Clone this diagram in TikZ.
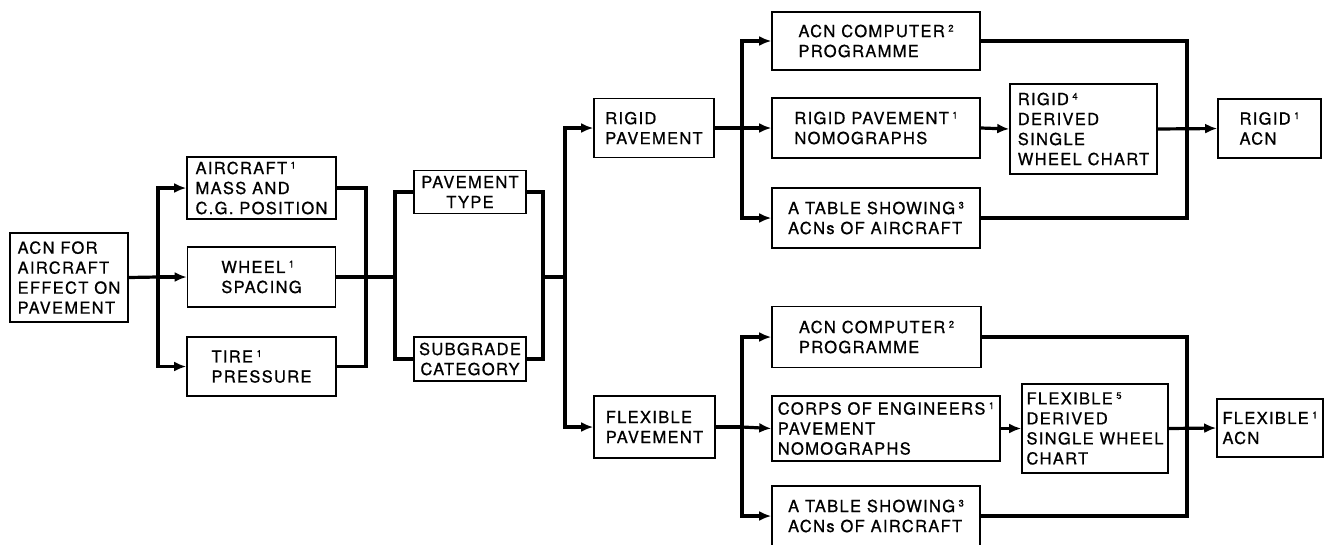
\documentclass[tikz,border=0pt]{standalone}
\usepackage{fontspec}
\setmainfont{TeX Gyre Heros}[LetterSpace=8,FakeBold=0.8]
\usetikzlibrary{arrows.meta}
\newcommand\supn[1]{\hspace{3.5pt}{\fontsize{9.5}{9.5}\selectfont\raisebox{5.5pt}{#1}}}
\begin{document}
\begin{tikzpicture}[x=1pt,y=-1pt,
  box/.style={draw,line width=1.6pt,rectangle,align=left,inner sep=0pt,
    font=\fontsize{16.5}{20}\selectfont},
  link/.style={line width=3.2pt,line cap=butt},
  arr/.style={link,-{Latex[length=12pt,width=10pt]}}]
\useasboundingbox (0,0) rectangle (1325,544);
% nodes
\node[box,minimum width=118pt,minimum height=89pt] (acn) at (69,277.5) {ACN FOR\\AIRCRAFT\\EFFECT ON\\PAVEMENT};
\node[box,minimum width=149pt,minimum height=62pt] (air) at (261.5,188) {AIRCRAFT\supn{1}\\MASS AND\\C.G. POSITION};
\node[box,minimum width=148pt,minimum height=60pt] (wheel) at (261.5,277) {WHEEL\supn{1}\\SPACING};
\node[box,minimum width=149pt,minimum height=59pt] (tire) at (261.5,366.5) {TIRE\supn{1}\\PRESSURE};
\node[box,align=center,minimum width=112pt,minimum height=43pt] (ptype) at (470,192) {PAVEMENT\\TYPE};
\node[box,align=center,minimum width=112pt,minimum height=44pt] (subg) at (470,359) {SUBGRADE\\CATEGORY};
\node[box,minimum width=120pt,minimum height=59pt] (rigid) at (654,128) {RIGID\\PAVEMENT};
\node[box,minimum width=121pt,minimum height=62pt] (flex) at (654.5,427) {FLEXIBLE\\PAVEMENT};
\node[box,minimum width=208pt,minimum height=58pt] (acnr) at (876,41) {ACN COMPUTER\supn{2}\\PROGRAMME};
\node[box,minimum width=208pt,minimum height=60pt] (nomr) at (876,128) {RIGID PAVEMENT\supn{1}\\NOMOGRAPHS};
\node[box,minimum width=208pt,minimum height=60pt] (tabr) at (876,218) {A TABLE SHOWING\supn{3}\\ACNs OF AIRCRAFT};
\node[box,minimum width=147pt,minimum height=90pt] (rig4) at (1083.5,129) {RIGID\supn{4}\\DERIVED\\SINGLE\\WHEEL CHART};
\node[box,minimum width=103pt,minimum height=59pt] (racn) at (1269.5,128.5) {RIGID\supn{1}\\ACN};
\node[box,minimum width=209pt,minimum height=61pt] (acnf) at (876.5,337) {ACN COMPUTER\supn{2}\\PROGRAMME};
\node[box,minimum width=228pt,minimum height=65pt] (corps) at (886,428.5) {CORPS OF ENGINEERS\supn{1}\\PAVEMENT\\NOMOGRAPHS};
\node[box,minimum width=208pt,minimum height=60pt] (tabf) at (876,516) {A TABLE SHOWING\supn{3}\\ACNs OF AIRCRAFT};
\node[box,minimum width=146pt,minimum height=89pt] (flex5) at (1095,428.5) {FLEXIBLE\supn{5}\\DERIVED\\SINGLE WHEEL\\CHART};
\node[box,minimum width=106pt,minimum height=58pt] (facn) at (1270,428) {FLEXIBLE\supn{1}\\ACN};
% junctions
\coordinate (j1) at (158,277);
\coordinate (m1) at (366,277);
\coordinate (b1) at (395,277);
\coordinate (b2) at (543,277);
\coordinate (j2) at (565,277);
\coordinate (j3) at (742,128);
\coordinate (m3) at (1187,128);
\coordinate (j4) at (742,427);
\coordinate (m4) at (1187,428);
% connectors
\draw[link] (acn.east) -- (j1);
\draw[arr] (j1) |- (air.west);
\draw[arr] (j1) -- (wheel.west);
\draw[arr] (j1) |- (tire.west);
\draw[link] (air.east) -| (m1);
\draw[link] (tire.east) -| (m1);
\draw[link] (wheel.east) -- (b1);
\draw[link] (b1) |- (ptype.west);
\draw[link] (b1) |- (subg.west);
\draw[link] (ptype.east) -| (b2);
\draw[link] (subg.east) -| (b2);
\draw[link] (b2) -- (j2);
\draw[arr] (j2) |- (rigid.west);
\draw[arr] (j2) |- (flex.west);
\draw[link] (rigid.east) -- (j3);
\draw[arr] (j3) |- (acnr.west);
\draw[arr] (j3) -- (nomr.west);
\draw[arr] (j3) |- (tabr.west);
\draw[arr] (nomr.east) -- (rig4.west);
\draw[arr] (rig4.east) -- (racn.west);
\draw[link] (acnr.east) -| (m3);
\draw[link] (tabr.east) -| (m3);
\draw[link] (flex.east) -- (j4);
\draw[arr] (j4) |- (acnf.west);
\draw[arr] (j4) -- (corps.west);
\draw[arr] (j4) |- (tabf.west);
\draw[arr] (corps.east) -- (flex5.west);
\draw[arr] (flex5.east) -- (facn.west);
\draw[link] (acnf.east) -| (m4);
\draw[link] (tabf.east) -| (m4);
\end{tikzpicture}
\end{document}
